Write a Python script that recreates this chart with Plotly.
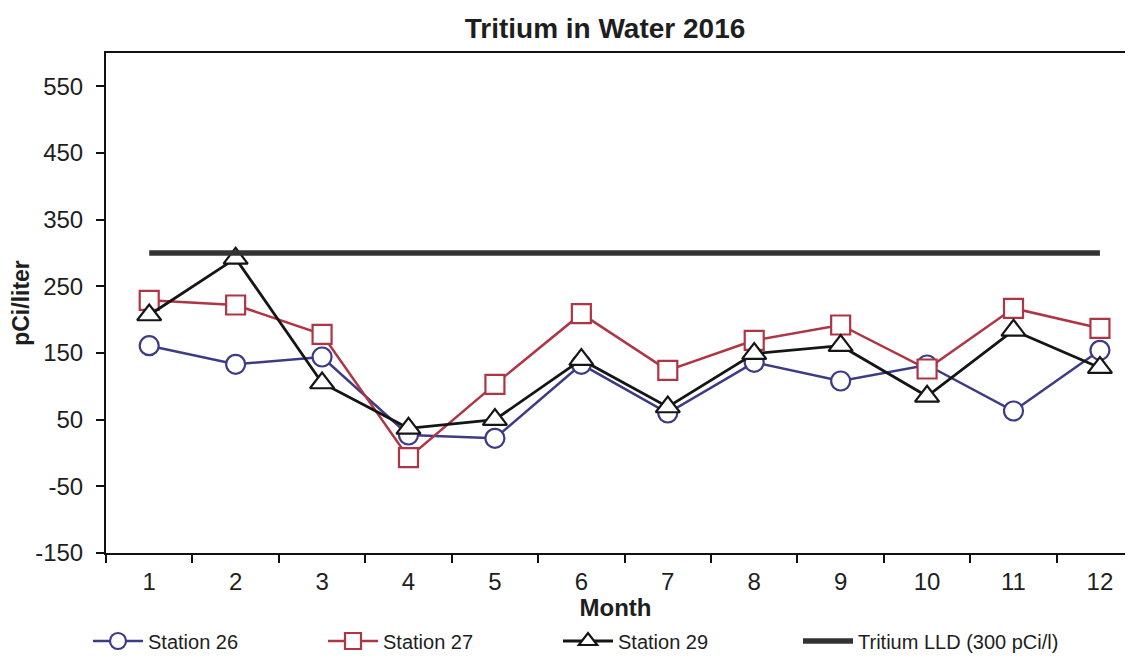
import plotly.graph_objects as go

months = [1, 2, 3, 4, 5, 6, 7, 8, 9, 10, 11, 12]
month_labels = ["1", "2", "3", "4", "5", "6", "7", "8", "9", "10", "11", "12"]
station26 = [161, 133, 144, 27, 22, 133, 60, 136, 108, 132, 63, 154]
station27 = [229, 222, 178, -7, 103, 209, 124, 169, 192, 126, 217, 187]
station29 = [207, 292, 105, 37, 50, 140, 69, 149, 161, 85, 184, 128]
lld = [300] * 12
y_ticks = [-150, -50, 50, 150, 250, 350, 450, 550]
y_tick_labels = ["-150", "-50", "50", "150", "250", "350", "450", "550"]

FONT = "Liberation Sans, Arial, sans-serif"
TXT = "#1e1e1e"

# page body has an 8px margin; size the figure so it fits in the window
OFF = 8
W, H = 1117, 646
LEG_Y = 1 - (641 - OFF) / H

fig = go.Figure()
fig.add_trace(go.Scatter(
    x=months, y=station26, name="Station 26", mode="lines+markers",
    line=dict(color="#3d3b86", width=2.5),
    marker=dict(symbol="circle", size=19, color="white",
                line=dict(color="#3d3b86", width=2.2))))
fig.add_trace(go.Scatter(
    x=months, y=station27, name="Station 27", mode="lines+markers",
    line=dict(color="#b03544", width=2.5),
    marker=dict(symbol="square", size=19, color="white",
                line=dict(color="#b03544", width=2.2))))
fig.add_trace(go.Scatter(
    x=months, y=station29, name="Station 29", mode="lines+markers",
    line=dict(color="#151515", width=2.8),
    marker=dict(symbol="triangle-up", size=21, color="white",
                line=dict(color="#151515", width=2.2))))
fig.add_trace(go.Scatter(
    x=months, y=lld, name="Tritium LLD (300 pCi/l)", mode="lines",
    line=dict(color="#333333", width=5.5), legend="legend2"))

legend_common = dict(orientation="h", xref="container", yref="container",
                     xanchor="left", y=LEG_Y, yanchor="middle",
                     font=dict(size=20, family=FONT, color=TXT),
                     itemwidth=50, bgcolor="rgba(0,0,0,0)", traceorder="normal")

fig.update_layout(
    width=W, height=H,
    paper_bgcolor="white", plot_bgcolor="white",
    margin=dict(l=106 - OFF, r=0, t=53 - OFF, b=H - (553 - OFF), autoexpand=False),
    font=dict(family=FONT, color=TXT),
    title=dict(text="<b>Tritium in Water 2016</b>", x=(605 - OFF) / W, xanchor="center",
               y=1 - (28 - OFF) / H, yanchor="middle",
               font=dict(size=28, family=FONT, color=TXT)),
    showlegend=True,
    legend=dict(x=(88 - OFF) / W, entrywidth=170, entrywidthmode="pixels",
                **legend_common),
    legend2=dict(x=(798 - OFF) / W, **legend_common),
)

fig.update_xaxes(
    range=[0.5, 12.29], tickvals=months, ticktext=month_labels, ticks="",
    tickfont=dict(size=24, family=FONT, color=TXT), ticklabelstandoff=6,
    showgrid=False, zeroline=False, automargin=False,
    showline=True, linecolor="#111111", linewidth=2, mirror=True,
    minor=dict(tickvals=[m - 0.5 for m in months] + [12.5], ticks="outside",
               ticklen=8, tickcolor="#111111", tickwidth=2, showgrid=False),
    title=dict(text="<b>Month</b>", font=dict(size=24, family=FONT, color=TXT),
               standoff=16),
)
fig.update_yaxes(
    range=[-150, 600], tickvals=y_ticks, ticktext=y_tick_labels,
    ticks="outside", ticklen=8, tickcolor="#111111", tickwidth=2,
    tickfont=dict(size=24, family=FONT, color=TXT), ticklabelstandoff=8,
    showgrid=False, zeroline=False, automargin=False,
    showline=True, linecolor="#111111", linewidth=2, mirror=False,
    title=dict(text="<b>pCi/liter</b>", font=dict(size=23, family=FONT, color=TXT),
               standoff=10),
)

fig.write_html("out.html")
